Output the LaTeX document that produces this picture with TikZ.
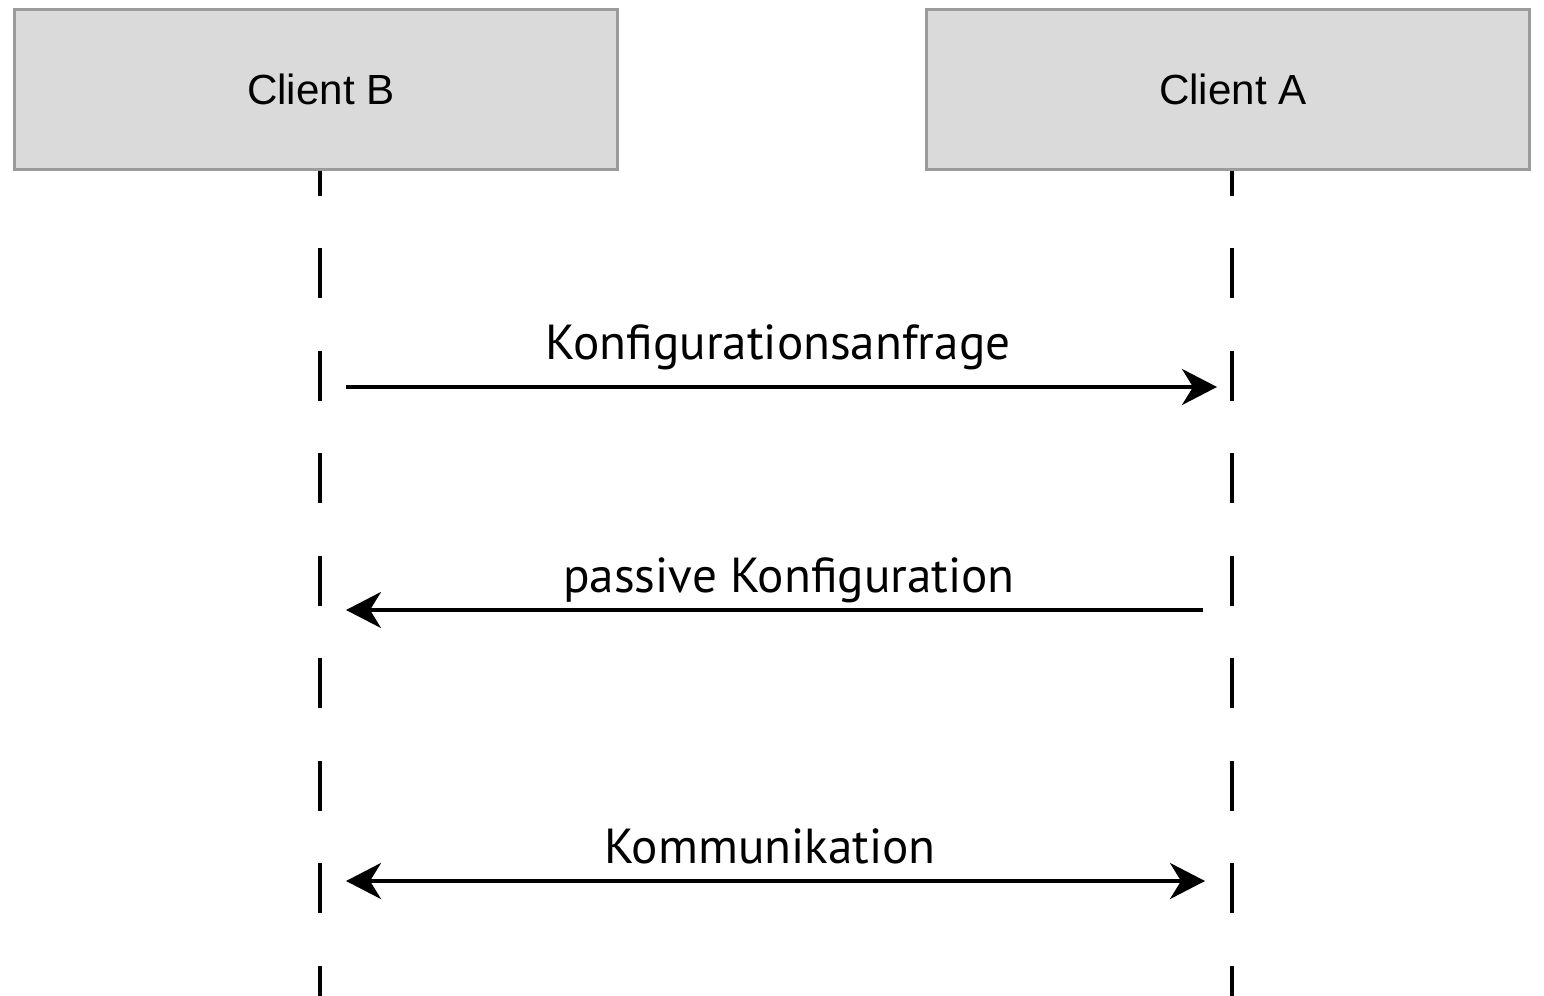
\documentclass[tikz,border=0pt]{standalone}
\usepackage{fontspec}
\setmainfont{PT Sans}
\newfontfamily\boxfont{Liberation Sans}
\usetikzlibrary{arrows.meta}
\definecolor{boxfill}{HTML}{DADADA}
\definecolor{boxline}{HTML}{9B9B9B}
\tikzset{
  client/.style={draw=boxline, fill=boxfill, line width=1.7pt,
    minimum width=12.06cm, minimum height=3.2cm, inner sep=0pt,
    font=\boxfont\fontsize{24}{28}\selectfont},
  lifeline/.style={line width=2.1pt, dash pattern=on 1cm off 1.05cm, dash phase=0.5cm},
  tip/.tip={Stealth[length=0.7cm,width=0.72cm,inset=0.22cm]},
  msg/.style={line width=2pt},
  msgtext/.style={anchor=base, inner sep=0pt, font=\fontsize{28}{32}\selectfont}
}
\begin{document}
\begin{tikzpicture}[x=0.02cm, y=-0.02cm]
\useasboundingbox (0,0) rectangle (1544,996);
\node[client] (cb) at (316,89.5) {\hspace{0.2cm}Client B};
\node[client] (ca) at (1228,89.5) {\hspace{0.2cm}Client A};
\coordinate (eb) at (320,996);
\coordinate (ea) at (1232,996);
\draw[lifeline] (cb.south -| eb) -- (eb);
\draw[lifeline] (ca.south -| ea) -- (ea);
\coordinate (b1) at (346,387);
\coordinate (a1) at (1217,387);
\coordinate (b2) at (346,610);
\coordinate (a2) at (1203,610);
\coordinate (b3) at (346,881);
\coordinate (a3) at (1205,881);
\draw[msg,-tip] (b1) -- (a1);
\draw[msg,-tip] (a2) -- (b2);
\draw[msg,tip-tip] (b3) -- (a3);
\node[msgtext] (t1) at (778,360) {Konfigurationsanfrage};
\node[msgtext] (t2) at (789,592) {passive Konfiguration};
\node[msgtext] (t3) at (770,863) {Kommunikation};
\end{tikzpicture}
\end{document}
